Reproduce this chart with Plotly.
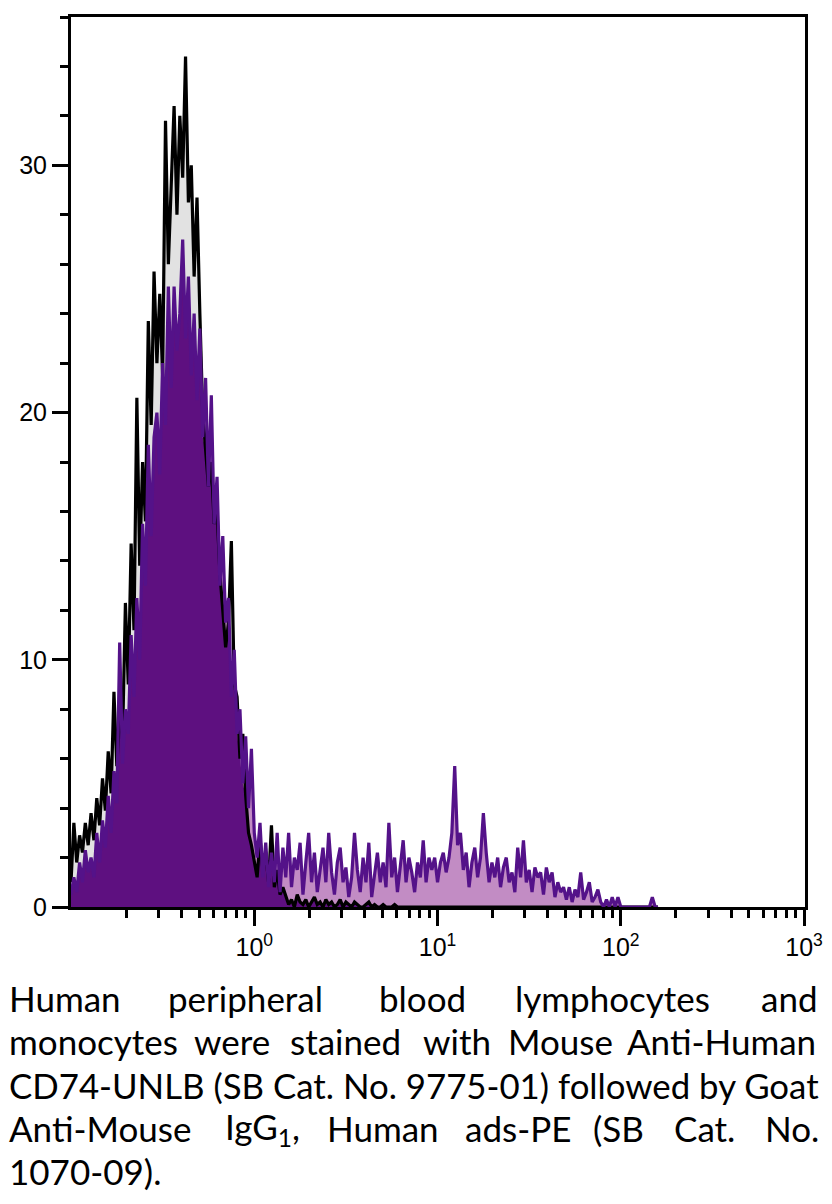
import numpy as np
import plotly.graph_objects as go

# histogram channels: 64 per decade, starting at 10^-1
CANALES_POR_DECADA = 64

# control (isotype) - black outline
control = [
    1.0, 3.4, 1.8, 2.9, 2.2, 3.4, 2.5, 3.8, 2.7, 4.4,
    3.3, 5.2, 3.9, 6.3, 4.6, 8.7, 5.7, 7.9, 6.8, 12.3,
    9.0, 14.7, 11.2, 20.6, 13.8, 18.0, 15.6, 23.7, 19.5, 25.7,
    22.0, 24.8, 21.5, 31.8, 26.0, 29.5, 32.4, 28.0, 32.0, 29.5,
    34.4, 28.5, 30.0, 25.5, 28.7, 24.0, 20.0, 18.5, 17.0, 18.0,
    15.5, 16.0, 13.5, 12.0, 10.5, 11.5, 14.8, 9.0, 8.5, 6.0,
    7.0, 4.5, 3.0, 2.5, 1.8, 1.2, 2.8, 1.5, 2.2, 1.0,
    3.3, 0.8, 1.5, 0.5, 0.8, 0.4, 0.1, 0.3, 0.0, 0.5,
    0.2, 0.1, 0.3, 0.0, 0.2, 0.4, 0.1, 0.2, 0.0, 0.3,
    0.1, 0.2, 0.0, 0.1, 0.3, 0.0, 0.2, 0.1, 0.0, 0.2,
    0.1, 0.0, 0.0, 0.1, 0.2, 0.0, 0.1, 0.0, 0.0, 0.1,
    0.0, 0.0, 0.0, 0.1, 0.0, 0.0,
]

# CD74 stained - purple
cd74 = [
    0.5, 1.2, 0.6, 1.8, 1.0, 2.3, 1.4, 2.0, 1.2, 3.0,
    1.8, 3.5, 2.4, 4.5, 3.0, 5.5, 4.2, 10.7, 5.8, 8.0,
    7.0, 11.0, 8.5, 12.5, 10.0, 15.5, 13.0, 18.7, 15.0, 19.0,
    20.0, 17.5, 22.0, 19.5, 25.1, 21.0, 25.1, 22.5, 24.0, 27.0,
    23.0, 25.5, 21.5, 24.0, 20.5, 23.4, 19.0, 21.4, 17.0, 20.7,
    15.5, 17.4, 13.0, 15.0, 11.5, 12.5, 8.5, 10.4, 7.0, 8.0,
    5.0, 6.9, 4.0, 6.4, 3.0, 2.0, 3.4, 1.2, 2.6, 0.8,
    2.2, 1.0, 3.0, 0.6, 2.4, 1.2, 3.0, 0.8, 2.0, 1.5,
    2.6, 0.5, 1.8, 3.0, 1.0, 2.2, 0.6, 1.6, 2.4, 1.0,
    3.0, 1.4, 0.5, 1.8, 2.4, 1.0, 1.6, 0.4, 1.2, 3.0,
    1.5, 0.6, 2.0, 1.0, 2.6, 0.4, 1.4, 2.2, 1.0, 1.8,
    0.8, 3.4, 1.2, 2.0, 0.6, 1.6, 2.7, 1.0, 2.0, 1.4,
    0.6, 1.8, 1.2, 2.7, 1.0, 2.0, 1.5, 2.0, 1.0, 1.8,
    2.2, 1.4, 2.0, 3.0, 5.7, 2.5, 3.0, 1.5, 2.2, 0.8,
    1.8, 2.4, 1.2, 2.0, 3.8, 2.2, 1.0, 1.8, 1.2, 2.0,
    0.8, 1.6, 2.0, 1.0, 1.4, 0.6, 2.4, 1.2, 2.7, 1.0,
    1.5, 0.6, 1.6, 1.2, 1.4, 0.5, 1.6, 1.0, 1.4, 0.4,
    1.0, 0.6, 0.8, 0.3, 0.8, 0.2, 0.7, 0.4, 1.4, 0.3,
    0.6, 1.0, 0.2, 0.4, 0.7, 0.2, 0.0, 0.3, 0.0, 0.4,
    0.0, 0.4, 0.0, 0.0, 0.0, 0.0, 0.0, 0.0, 0.0, 0.0,
    0.0, 0.0, 0.0, 0.4, 0.0, 0.0,
]

y_ticks = [0, 10, 20, 30]
x_ticks = [1, 10, 100, 1000]
x_ticktext = ["10<sup>0</sup>", "10<sup>1</sup>", "10<sup>2</sup>", "10<sup>3</sup>"]

# caption, justified by hand: (word, anchor px, font size)
caption = [
    [("Human", 7, 35), ("peripheral", 166, 35), ("blood", 377, 35),
     ("lymphocytes", 513, 35), ("and", 759, 35)],
    [("monocytes", 7, 35), ("were", 192, 35), ("stained", 288, 35), ("with", 421, 35),
     ("Mouse", 506, 35), ("Anti-Human", 625, 35)],
    [("CD74-UNLB (SB Cat. No. 9775-01) followed by Goat", 7, 34.8)],
    [("Anti-Mouse", 7, 35), ("IgG<sub>1</sub>,", 223, 35), ("Human", 325, 35),
     ("ads-PE", 463, 35), ("(SB", 591, 35), ("Cat.", 672, 35), ("No.", 763, 35)],
    [("1070-09).", 7, 35)],
]
caption_centers = [998, 1041, 1085, 1128, 1171]

# page geometry (browser body keeps an 8px margin)
PAGE_W, PAGE_H, BODY = 832, 1204, 8
L, R, T, B = 71, 805, 17, 907

n = max(len(control), len(cd74))
canal = np.arange(n)
x = 10 ** (-1 + canal / CANALES_POR_DECADA)
ctrl = np.zeros(n)
ctrl[:len(control)] = control
stain = np.zeros(n)
stain[:len(cd74)] = cd74
overlap = np.minimum(ctrl, stain)

fig = go.Figure()
fig.add_trace(go.Scatter(x=x, y=ctrl, mode="lines", line=dict(width=0, color="#e2e2e2"),
                         fill="tozeroy", fillcolor="#e2e2e2"))
fig.add_trace(go.Scatter(x=x, y=stain, mode="lines", line=dict(width=0, color="#c28cc4"),
                         fill="tozeroy", fillcolor="#c28cc4"))
fig.add_trace(go.Scatter(x=x, y=overlap, mode="lines", line=dict(width=0, color="#5e1080"),
                         fill="tozeroy", fillcolor="#5e1080"))
fig.add_trace(go.Scatter(x=x, y=ctrl, mode="lines", line=dict(width=3.2, color="black")))
fig.add_trace(go.Scatter(x=x, y=stain, mode="lines", line=dict(width=3.2, color="#541289")))

minor_x = [m * 10 ** d for d in range(-1, 3) for m in range(2, 10)]

tick_font = dict(family="Liberation Sans, Arial", size=25, color="black")
fig.update_layout(
    width=PAGE_W - BODY, height=PAGE_H - BODY,
    margin=dict(l=L - BODY, r=PAGE_W - R, t=T - BODY, b=PAGE_H - B),
    paper_bgcolor="white", plot_bgcolor="white",
    showlegend=False,
    xaxis=dict(
        type="log", range=[-1, 3.005], automargin=False,
        showline=True, linewidth=3, linecolor="black", mirror=True,
        showgrid=False, zeroline=False,
        ticks="outside", ticklen=16, tickwidth=3, tickcolor="black",
        tickvals=x_ticks, ticktext=x_ticktext, tickfont=tick_font,
        minor=dict(tickmode="array", tickvals=minor_x, ticks="outside",
                   ticklen=8, tickwidth=2.5, tickcolor="black", showgrid=False),
    ),
    yaxis=dict(
        range=[0, 36], automargin=False,
        showline=True, linewidth=3, linecolor="black", mirror=True,
        showgrid=False, zeroline=False,
        ticks="outside", ticklen=16, tickwidth=3, tickcolor="black",
        tickvals=y_ticks, tickfont=tick_font,
        minor=dict(dtick=2, tick0=0, ticks="outside", ticklen=8,
                   tickwidth=2.5, tickcolor="black", showgrid=False),
    ),
)

for linea, cy in zip(caption, caption_centers):
    yp = (B - cy) / (B - T)
    for palabra, px, size in linea:
        fig.add_annotation(text=palabra, x=(px - L) / (R - L), y=yp,
                           xref="paper", yref="paper",
                           xanchor="left", yanchor="middle", showarrow=False,
                           font=dict(family="Lato", size=size, color="black"))

fig.write_html("out.html")
